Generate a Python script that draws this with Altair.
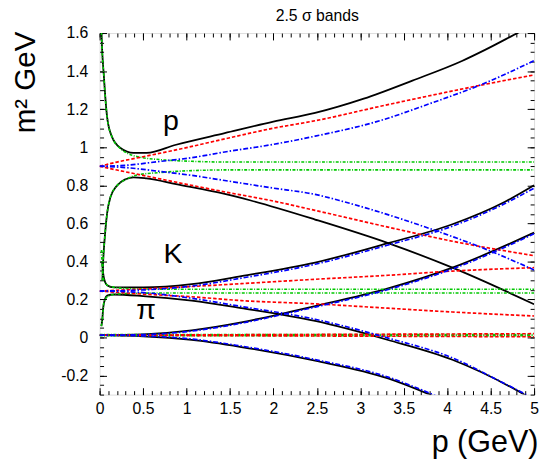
import altair as alt
import pandas as pd

FONT = "Liberation Sans"

# ---------------- proton band (p) ----------------
P_BLACK_UP_P = [0.015, 0.022, 0.05, 0.086, 0.14, 0.24, 0.39, 0.54, 0.88, 1.44, 2.0, 2.48, 3.04, 3.6, 4.17, 4.43, 4.83, 5.0]
P_BLACK_UP_M = [1.75, 1.6, 1.367, 1.16, 1.057, 0.996, 0.97, 0.97, 1.013, 1.074, 1.134, 1.18, 1.255, 1.35, 1.453, 1.51, 1.605, 1.645]
P_BLACK_LO_P = [0.032, 0.04, 0.06, 0.086, 0.124, 0.2, 0.3, 0.39, 0.54, 0.88, 1.44, 1.74, 2.48, 3.32, 4.06, 5.0]
P_BLACK_LO_M = [0.30, 0.394, 0.53, 0.652, 0.737, 0.798, 0.832, 0.842, 0.836, 0.806, 0.755, 0.72, 0.62, 0.496, 0.367, 0.175]
P_RED_UP_P = [0, 0.2, 0.5, 1.0, 1.5, 2.0, 2.48, 3.23, 3.98, 4.43, 5.0]
P_RED_UP_M = [0.9, 0.922, 0.95, 0.998, 1.05, 1.1, 1.139, 1.215, 1.288, 1.33, 1.38]
P_RED_LO_P = [0, 0.2, 0.5, 1.0, 1.5, 1.97, 2.48, 3.32, 4.06, 5.0]
P_RED_LO_M = [0.9, 0.88, 0.852, 0.805, 0.76, 0.72, 0.668, 0.58, 0.506, 0.43]
P_BLUE_UP_P = [0, 0.3, 0.69, 1.06, 1.44, 2.0, 2.48, 3.23, 3.8, 4.43, 5.0]
P_BLUE_UP_M = [0.9, 0.905, 0.925, 0.945, 0.975, 1.015, 1.058, 1.14, 1.229, 1.336, 1.455]
P_BLUE_LO_P = [0, 0.3, 0.69, 1.06, 1.44, 2.0, 2.48, 2.8, 3.23, 3.79, 4.51, 5.0]
P_BLUE_LO_M = [0.9, 0.893, 0.873, 0.852, 0.825, 0.785, 0.752, 0.715, 0.658, 0.574, 0.452, 0.355]
P_GREEN_UP_P = [0.015, 0.022, 0.05, 0.086, 0.14, 0.24, 0.35, 0.46, 0.69, 1.06, 1.5, 5.0]
P_GREEN_UP_M = [1.75, 1.6, 1.367, 1.16, 1.057, 0.993, 0.962, 0.948, 0.935, 0.926, 0.922, 0.922]
P_GREEN_LO_P = [0.032, 0.04, 0.06, 0.086, 0.124, 0.2, 0.3, 0.42, 0.69, 1.06, 1.5, 5.0]
P_GREEN_LO_M = [0.30, 0.394, 0.53, 0.652, 0.737, 0.798, 0.83, 0.853, 0.867, 0.877, 0.881, 0.881]

# ---------------- kaon band (K) ----------------
K_BLACK_UP_P = [0.028, 0.04, 0.06, 0.086, 0.16, 0.5, 1.06, 1.63, 2.48, 3.32, 4.06, 4.66, 5.0]
K_BLACK_UP_M = [0.40, 0.34, 0.295, 0.275, 0.263, 0.263, 0.28, 0.323, 0.394, 0.496, 0.595, 0.712, 0.8]
K_BLACK_LO_P = [0.02, 0.03, 0.04, 0.06, 0.086, 0.16, 0.5, 1.06, 1.63, 2.48, 3.32, 4.06, 4.88, 5.0]
K_BLACK_LO_M = [0.06, 0.09, 0.151, 0.2, 0.22, 0.226, 0.218, 0.194, 0.155, 0.087, -0.013, -0.117, -0.298, -0.33]
K_RED_P = [0, 0.5, 1.06, 1.63, 2.48, 3.32, 4.06, 5.0]
K_RED_UP_M = [0.244, 0.255, 0.268, 0.283, 0.306, 0.327, 0.349, 0.367]
K_RED_LO_M = [0.244, 0.228, 0.214, 0.194, 0.177, 0.154, 0.134, 0.113]
K_BLUE_P = [0, 0.5, 1.06, 1.63, 2.48, 3.32, 4.06, 4.66, 5.0]
K_BLUE_UP_M = [0.244, 0.25, 0.27, 0.312, 0.385, 0.486, 0.585, 0.703, 0.785]
K_BLUE_LO_M = [0.244, 0.236, 0.206, 0.163, 0.096, -0.003, -0.107, -0.242, -0.322]
K_GREEN_UP_P = [0.022, 0.03, 0.05, 0.1, 0.2, 0.4, 0.8, 5.0]
K_GREEN_UP_M = [0.46, 0.37, 0.30, 0.272, 0.262, 0.256, 0.254, 0.254]
K_GREEN_LO_P = [0.02, 0.03, 0.05, 0.1, 0.2, 0.4, 0.8, 5.0]
K_GREEN_LO_M = [0.06, 0.09, 0.185, 0.218, 0.228, 0.232, 0.234, 0.234]

# ---------------- pion band (pi) ----------------
PI_UP_P = [0, 0.5, 1.06, 1.63, 2.19, 2.48, 3.32, 4.06, 5.0]
PI_BLACK_UP_M = [0.012, 0.017, 0.038, 0.08, 0.135, 0.165, 0.258, 0.367, 0.551]
PI_BLUE_UP_M = [0.012, 0.015, 0.034, 0.075, 0.13, 0.16, 0.252, 0.36, 0.545]
PI_LO_P = [0, 0.5, 1.06, 1.63, 2.48, 3.32, 3.8, 4.1]
PI_BLACK_LO_M = [0.012, 0.006, -0.013, -0.05, -0.122, -0.215, -0.3, -0.36]
PI_BLUE_LO_M = [0.012, 0.008, -0.008, -0.045, -0.116, -0.208, -0.293, -0.353]
PI_FLAT_P = [0, 5.0]
PI_RED_UP_M = [0.012, 0.02]
PI_RED_LO_M = [0.012, 0.004]
PI_GREEN_UP_M = [0.015, 0.015]
PI_GREEN_LO_M = [0.009, 0.009]

# ---------------- labels & ticks ----------------
LABEL_TEXT = ["p", "K", "\u03c0"]
LABEL_P = [0.82, 0.845, 0.534]
LABEL_M = [1.093, 0.394, 0.099]

X_MAJOR = [0, 0.5, 1, 1.5, 2, 2.5, 3, 3.5, 4, 4.5, 5]
X_MINOR = [round(i * 0.1, 2) for i in range(51)]
Y_MAJOR = [-0.2, 0, 0.2, 0.4, 0.6, 0.8, 1, 1.2, 1.4, 1.6]
Y_MINOR = [round(-0.3 + i * 0.05, 3) for i in range(39)]

PLOT_W = 441
PLOT_H = 367


def frame(curves):
    rows = []
    for name, ps, ms in curves:
        for i, (p, m) in enumerate(zip(ps, ms)):
            rows.append({"p": p, "m2": m, "curve": name, "i": i})
    return pd.DataFrame(rows)


black_df = frame([
    ("p_up", P_BLACK_UP_P, P_BLACK_UP_M), ("p_lo", P_BLACK_LO_P, P_BLACK_LO_M),
    ("k_up", K_BLACK_UP_P, K_BLACK_UP_M), ("k_lo", K_BLACK_LO_P, K_BLACK_LO_M),
    ("pi_up", PI_UP_P, PI_BLACK_UP_M), ("pi_lo", PI_LO_P, PI_BLACK_LO_M),
])
green_df = frame([
    ("p_up", P_GREEN_UP_P, P_GREEN_UP_M), ("p_lo", P_GREEN_LO_P, P_GREEN_LO_M),
    ("k_up", K_GREEN_UP_P, K_GREEN_UP_M), ("k_lo", K_GREEN_LO_P, K_GREEN_LO_M),
    ("pi_up", PI_FLAT_P, PI_GREEN_UP_M), ("pi_lo", PI_FLAT_P, PI_GREEN_LO_M),
])
red_df = frame([
    ("p_up", P_RED_UP_P, P_RED_UP_M), ("p_lo", P_RED_LO_P, P_RED_LO_M),
    ("k_up", K_RED_P, K_RED_UP_M), ("k_lo", K_RED_P, K_RED_LO_M),
    ("pi_up", PI_FLAT_P, PI_RED_UP_M), ("pi_lo", PI_FLAT_P, PI_RED_LO_M),
])
blue_df = frame([
    ("p_up", P_BLUE_UP_P, P_BLUE_UP_M), ("p_lo", P_BLUE_LO_P, P_BLUE_LO_M),
    ("k_up", K_BLUE_P, K_BLUE_UP_M), ("k_lo", K_BLUE_P, K_BLUE_LO_M),
    ("pi_up", PI_UP_P, PI_BLUE_UP_M), ("pi_lo", PI_LO_P, PI_BLUE_LO_M),
])
label_df = pd.DataFrame({"p": LABEL_P, "m2": LABEL_M, "t": LABEL_TEXT})

XS = alt.Scale(domain=[0, 5], nice=False, zero=False)
YS = alt.Scale(domain=[-0.3, 1.6], nice=False, zero=False)

common_axis = dict(grid=False, domain=False, tickColor="black", tickWidth=1)

ax_bottom = alt.Axis(orient="bottom", values=X_MAJOR, tickSize=7, offset=-7,
                     labelExpr="'' + datum.value", labelFontSize=16, labelFont=FONT,
                     labelColor="black", labelPadding=6, labelFlush=False, labelOverlap=False,
                     title="p (GeV)", titleFont=FONT, titleFontSize=31, titleFontWeight="normal",
                     titleColor="black", titleAlign="right", titleBaseline="alphabetic",
                     titleX=PLOT_W + 4, titleY=65, **common_axis)
ax_left = alt.Axis(orient="left", values=Y_MAJOR, tickSize=7, offset=-7,
                   labelExpr="'' + datum.value", labelFontSize=16, labelFont=FONT,
                   labelColor="black", labelPadding=12, labelFlush=False, labelOverlap=False,
                   title="m\u00b2 GeV", titleFont=FONT, titleFontSize=30, titleFontWeight="normal",
                   titleColor="black", titleAngle=270, titleAlign="right", titleBaseline="alphabetic",
                   titleX=-73, titleY=-2, **common_axis)
ax_bottom_minor = alt.Axis(orient="bottom", values=X_MINOR, tickSize=4, offset=-4, labels=False, **common_axis)
ax_left_minor = alt.Axis(orient="left", values=Y_MINOR, tickSize=4, offset=-4, labels=False, **common_axis)
ax_top = alt.Axis(orient="top", values=X_MAJOR, tickSize=7, offset=-7, labels=False,
                  title="2.5 \u03c3 bands", titleFont=FONT, titleFontSize=16, titleFontWeight="normal",
                  titleColor="black", titleAlign="center", titleBaseline="alphabetic",
                  titleX=PLOT_W / 2, titleY=-20, **common_axis)
ax_right = alt.Axis(orient="right", values=Y_MAJOR, tickSize=7, offset=-7, labels=False, **common_axis)
ax_top_minor = alt.Axis(orient="top", values=X_MINOR, tickSize=4, offset=-4, labels=False, **common_axis)
ax_right_minor = alt.Axis(orient="right", values=Y_MINOR, tickSize=4, offset=-4, labels=False, **common_axis)


def line_layer(df, color, width, dash, xaxis, yaxis, x_title=None, y_title=None):
    mk = dict(color=color, strokeWidth=width, clip=True, interpolate="monotone")
    if dash is not None:
        mk["strokeDash"] = dash
    xkw = dict(scale=XS, axis=xaxis)
    ykw = dict(scale=YS, axis=yaxis)
    if x_title is None:
        xkw["title"] = None
    if y_title is None:
        ykw["title"] = None
    return alt.Chart(df).mark_line(**mk).encode(
        x=alt.X("p:Q", **xkw),
        y=alt.Y("m2:Q", **ykw),
        detail="curve:N",
        order="i:Q",
    )


black = line_layer(black_df, "black", 1.8, None, ax_bottom, ax_left, x_title=True, y_title=True)
green = line_layer(green_df, "#00c800", 1.6, [3, 1.5, 1, 1.5], ax_bottom_minor, ax_left_minor)
red = line_layer(red_df, "#ff0000", 1.7, [3.5, 2], ax_top, ax_right, x_title=True)
blue = line_layer(blue_df, "#0000ff", 1.7, [5, 2, 1.5, 2], ax_top_minor, ax_right_minor)
labels = alt.Chart(label_df).mark_text(font=FONT, fontSize=29, color="black",
                                       align="center", baseline="alphabetic").encode(
    x=alt.X("p:Q", scale=XS, axis=None),
    y=alt.Y("m2:Q", scale=YS, axis=None),
    text="t:N")

chart = alt.layer(black, green, red, blue, labels).resolve_axis(
    x="independent", y="independent"
).properties(
    width=PLOT_W, height=PLOT_H,
    autosize=alt.AutoSizeParams(type="none"),
    padding={"left": 93, "top": 22, "right": 5, "bottom": 65},
).configure_view(stroke="black", strokeWidth=1).configure(background="white")

chart.save("out.html", embed_options={"renderer": "svg", "actions": False})
